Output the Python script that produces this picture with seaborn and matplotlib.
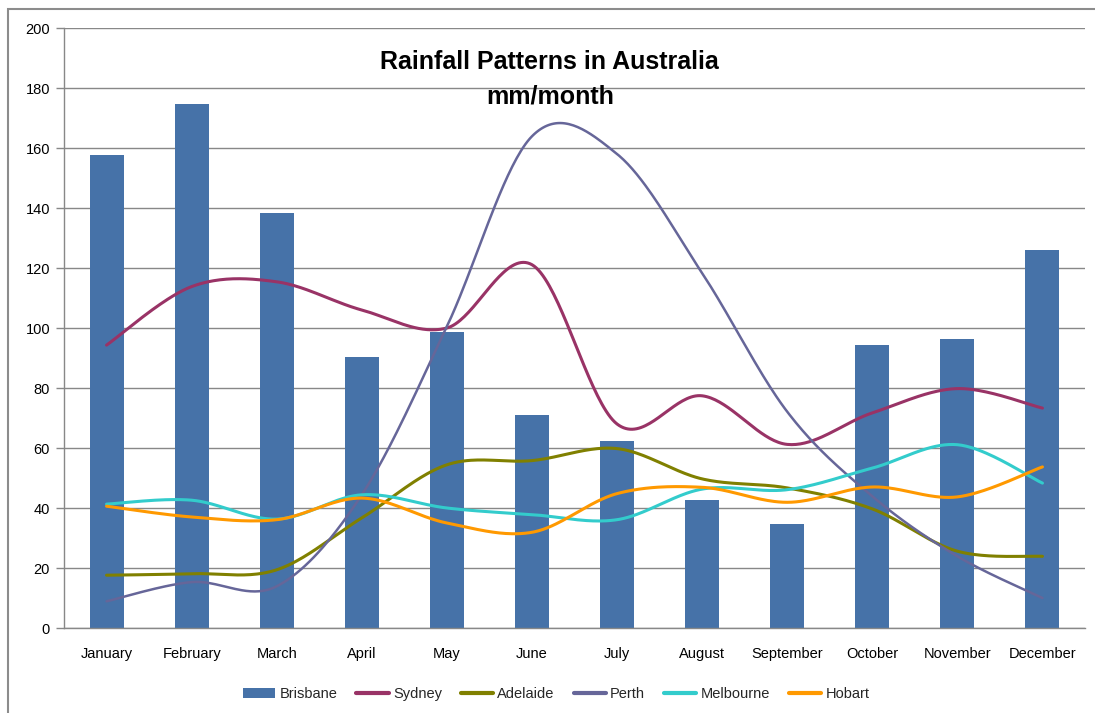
import numpy as np
import pandas as pd
import matplotlib
matplotlib.use("Agg")
import matplotlib.pyplot as plt
from matplotlib.patches import Patch, Rectangle
from matplotlib.lines import Line2D
import seaborn as sns

# Monthly rainfall (mm/month)
months = ["January", "February", "March", "April", "May", "June",
          "July", "August", "September", "October", "November", "December"]
brisbane = [157.8, 174.8, 138.4, 90.3, 98.8, 71.1, 62.4, 42.8, 34.8, 94.3, 96.3, 126.0]
sydney = [94.3, 113.8, 115.4, 106.0, 100.0, 121.1, 68.0, 77.4, 61.2, 71.7, 79.8, 73.3]
adelaide = [17.6, 18.1, 19.4, 36.7, 54.4, 55.8, 59.8, 49.7, 46.7, 39.7, 25.6, 23.9]
perth = [8.9, 15.3, 13.9, 44.4, 100.5, 163.9, 158.0, 118.3, 72.1, 43.9, 23.9, 10.0]
melbourne = [41.3, 42.6, 36.3, 44.4, 40.0, 37.8, 36.1, 46.3, 46.1, 53.3, 61.1, 48.3]
hobart = [40.6, 37.0, 36.1, 43.3, 35.0, 31.9, 44.8, 46.9, 41.9, 47.0, 43.7, 53.7]

line_series = [
    ("Sydney", sydney, "#993366", 2.2),
    ("Adelaide", adelaide, "#808000", 2.2),
    ("Perth", perth, "#666699", 1.8),
    ("Melbourne", melbourne, "#33CCCC", 2.2),
    ("Hobart", hobart, "#FF9900", 2.2),
]
bar_color = "#4672A8"
grid_color = "#888888"

sns.set_theme(style="white")
plt.rcParams["font.family"] = ["Liberation Sans", "DejaVu Sans"]


def smooth(values, steps=40):
    """Cubic Bezier smoothing through every point (Catmull-Rom style)."""
    y = np.asarray(values, dtype=float)
    x = np.arange(len(y), dtype=float)
    pts = np.column_stack([x, y])
    ext = np.vstack([pts[0], pts, pts[-1]])
    t = np.linspace(0, 1, steps)[:, None]
    out = []
    for i in range(len(pts) - 1):
        p0, p1, p2, p3 = ext[i], ext[i + 1], ext[i + 2], ext[i + 3]
        c1 = p1 + (p2 - p0) / 6.0
        c2 = p2 - (p3 - p1) / 6.0
        seg = ((1 - t) ** 3) * p1 + 3 * ((1 - t) ** 2) * t * c1 + 3 * (1 - t) * t ** 2 * c2 + t ** 3 * p2
        out.append(seg if i == 0 else seg[1:])
    seg = np.vstack(out)
    return seg[:, 0], seg[:, 1]


fig = plt.figure(figsize=(10.95, 7.13), dpi=100)
ax = fig.add_axes([64 / 1095, 1 - 628 / 713, (1085 - 64) / 1095, (628 - 28) / 713])

bars_df = pd.DataFrame({"month": months, "rain": brisbane})
sns.barplot(data=bars_df, x="month", y="rain", color=bar_color, saturation=1,
            width=0.4, ax=ax, zorder=2, linewidth=0)

for name, vals, color, lw in line_series:
    xs, ys = smooth(vals)
    sns.lineplot(x=xs, y=ys, color=color, linewidth=lw, ax=ax, sort=False,
                 estimator=None, zorder=3, legend=False)

ax.set_xlim(-0.5, 11.5)
ax.set_ylim(0, 200)
ax.set_yticks(np.arange(0, 201, 20))
ax.yaxis.grid(True, color=grid_color, linewidth=1.0, zorder=0)
ax.set_axisbelow(True)
ax.set_xlabel("")
ax.set_ylabel("")

ax.set_xticks(range(12))
ax.set_xticklabels(months, fontsize=10.5, color="#000000")
ax.set_xticks(np.arange(-0.5, 12, 1), minor=True)
ax.tick_params(axis="x", which="major", length=0, pad=14)
ax.tick_params(axis="x", which="minor", length=5, width=1, color=grid_color, direction="out")
ax.tick_params(axis="y", which="major", length=6, width=1, color=grid_color,
               direction="out", labelsize=10.5, labelcolor="#000000", pad=4)
ax.tick_params(axis="both", bottom=True, left=True)

for side in ["top", "right"]:
    ax.spines[side].set_visible(False)
for side in ["left", "bottom"]:
    ax.spines[side].set_color(grid_color)
    ax.spines[side].set_linewidth(1.0)

fig.text(0.502, 0.889, "Rainfall Patterns in Australia\nmm/month", ha="center", va="center",
         fontsize=18, fontweight="bold", linespacing=1.55, color="#000000")

handles = [Patch(facecolor=bar_color, edgecolor="none", label="Brisbane")]
for name, vals, color, lw in line_series:
    handles.append(Line2D([], [], color=color, linewidth=3, label=name))
fig.legend(handles=handles, loc="center", bbox_to_anchor=(0.508, 0.026), ncol=6,
           frameon=False, fontsize=10.5, handlelength=2.2, handleheight=0.7,
           columnspacing=1.3, handletextpad=0.3)

# outer chart border
fig.patches.append(Rectangle((8 / 1095, -0.1), 1.2, 1.1 - 9 / 713, transform=fig.transFigure,
                             fill=False, edgecolor="#8c8c8c", linewidth=1.5, clip_on=False))

fig.savefig("out.png", dpi=100)
